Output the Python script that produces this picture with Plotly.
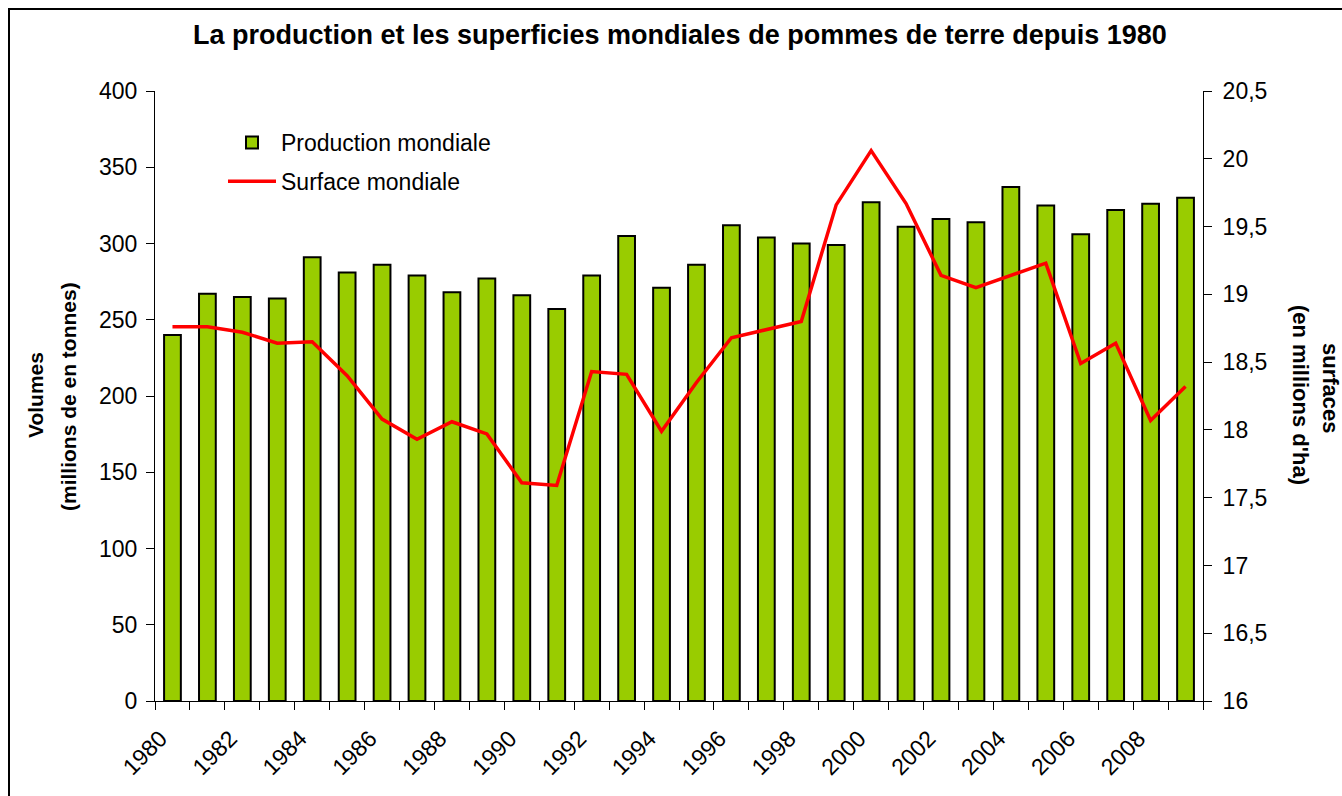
import plotly.graph_objects as go

years = [str(y) for y in range(1980, 2010)]
production = [240, 267, 265, 264, 291, 281, 286, 279, 268, 277,
              266, 257, 279, 305, 271, 286, 312, 304, 300, 299,
              327, 311, 316, 314, 337, 325, 306, 322, 326, 330]
surface = [18.76, 18.76, 18.72, 18.64, 18.65, 18.40, 18.08, 17.93, 18.06, 17.97,
           17.61, 17.59, 18.43, 18.41, 17.99, 18.35, 18.68, 18.74, 18.80, 19.66,
           20.06, 19.67, 19.14, 19.05, 19.14, 19.23, 18.49, 18.64, 18.07, 18.32]
tick_text = [y if int(y) % 2 == 0 else "" for y in years]

title = "La production et les superficies mondiales de pommes de terre depuis 1980"
FONT = "Liberation Sans, Arial, sans-serif"

fig = go.Figure()
fig.add_trace(go.Bar(
    x=years, y=production, name="Production mondiale",
    marker=dict(color="#99CC00", line=dict(color="black", width=2)),
    legendgroup="a", yaxis="y"))
fig.add_trace(go.Scatter(
    x=years, y=surface, name="Surface mondiale", mode="lines",
    line=dict(color="#FF0000", width=3.5),
    legendgroup="b", yaxis="y2"))

# plot area in pixels: x 155..1203, y 91..701
L, R, T, B = 155, 1203, 91, 701
W, H = R - L, B - T
def px(x):
    return (x - L) / W
def py(y):
    return (B - y) / H

fig.update_layout(
    width=1342, height=796,
    margin=dict(l=L, r=1342 - R, t=T, b=796 - B),
    paper_bgcolor="white", plot_bgcolor="white",
    separators=", ",
    font=dict(family=FONT, size=23, color="black"),
    bargap=0.52,
    showlegend=True,
    legend=dict(x=px(223), y=py(121), xanchor="left", yanchor="top",
                font=dict(size=23), bgcolor="rgba(0,0,0,0)",
                traceorder="grouped", tracegroupgap=6, itemwidth=48),
    xaxis=dict(type="category", tickmode="array", tickvals=years, ticktext=tick_text,
               tickangle=-45, ticks="outside", ticklen=8, tickson="boundaries",
               tickcolor="black", showline=True, linecolor="black", linewidth=1,
               showgrid=False, tickfont=dict(size=23),
               ticklabelstandoff=14, ticklabelshift=-12),
    yaxis=dict(range=[0, 400], dtick=50, ticks="outside", ticklen=8,
               tickcolor="black", showline=True, linecolor="black", linewidth=1,
               showgrid=False, zeroline=False, tickfont=dict(size=23),
               ticklabelstandoff=4),
    yaxis2=dict(range=[16, 20.5], dtick=0.5, overlaying="y", side="right",
                ticks="outside", ticklen=8, tickcolor="black", showline=True,
                linecolor="black", linewidth=1, showgrid=False, zeroline=False,
                tickfont=dict(size=23), ticklabelstandoff=6),
    shapes=[dict(type="rect", xref="paper", yref="paper",
                 x0=px(9), x1=px(1360), y0=py(815), y1=py(9),
                 line=dict(color="black", width=2), fillcolor="rgba(0,0,0,0)",
                 layer="below")],
    annotations=[
        dict(text="<b>" + title + "</b>", xref="paper", yref="paper",
             x=px(680), y=py(35), showarrow=False, font=dict(size=27),
             xanchor="center", yanchor="middle"),
        dict(text="<b>Volumes</b>", xref="paper", yref="paper",
             x=px(35), y=py(395), textangle=-90, showarrow=False,
             font=dict(size=21), xanchor="center", yanchor="middle"),
        dict(text="<b>(millions de en tonnes)</b>", xref="paper", yref="paper",
             x=px(68), y=py(397), textangle=-90, showarrow=False,
             font=dict(size=21), xanchor="center", yanchor="middle"),
        dict(text="<b>surfaces</b>", xref="paper", yref="paper",
             x=px(1331), y=py(388), textangle=90, showarrow=False,
             font=dict(size=22), xanchor="center", yanchor="middle"),
        dict(text="<b>(en millions d'ha)</b>", xref="paper", yref="paper",
             x=px(1301), y=py(395), textangle=90, showarrow=False,
             font=dict(size=22), xanchor="center", yanchor="middle"),
    ],
)

fig.write_html("out.html", config={"displayModeBar": False},
               post_script="document.body.style.margin='0';")
